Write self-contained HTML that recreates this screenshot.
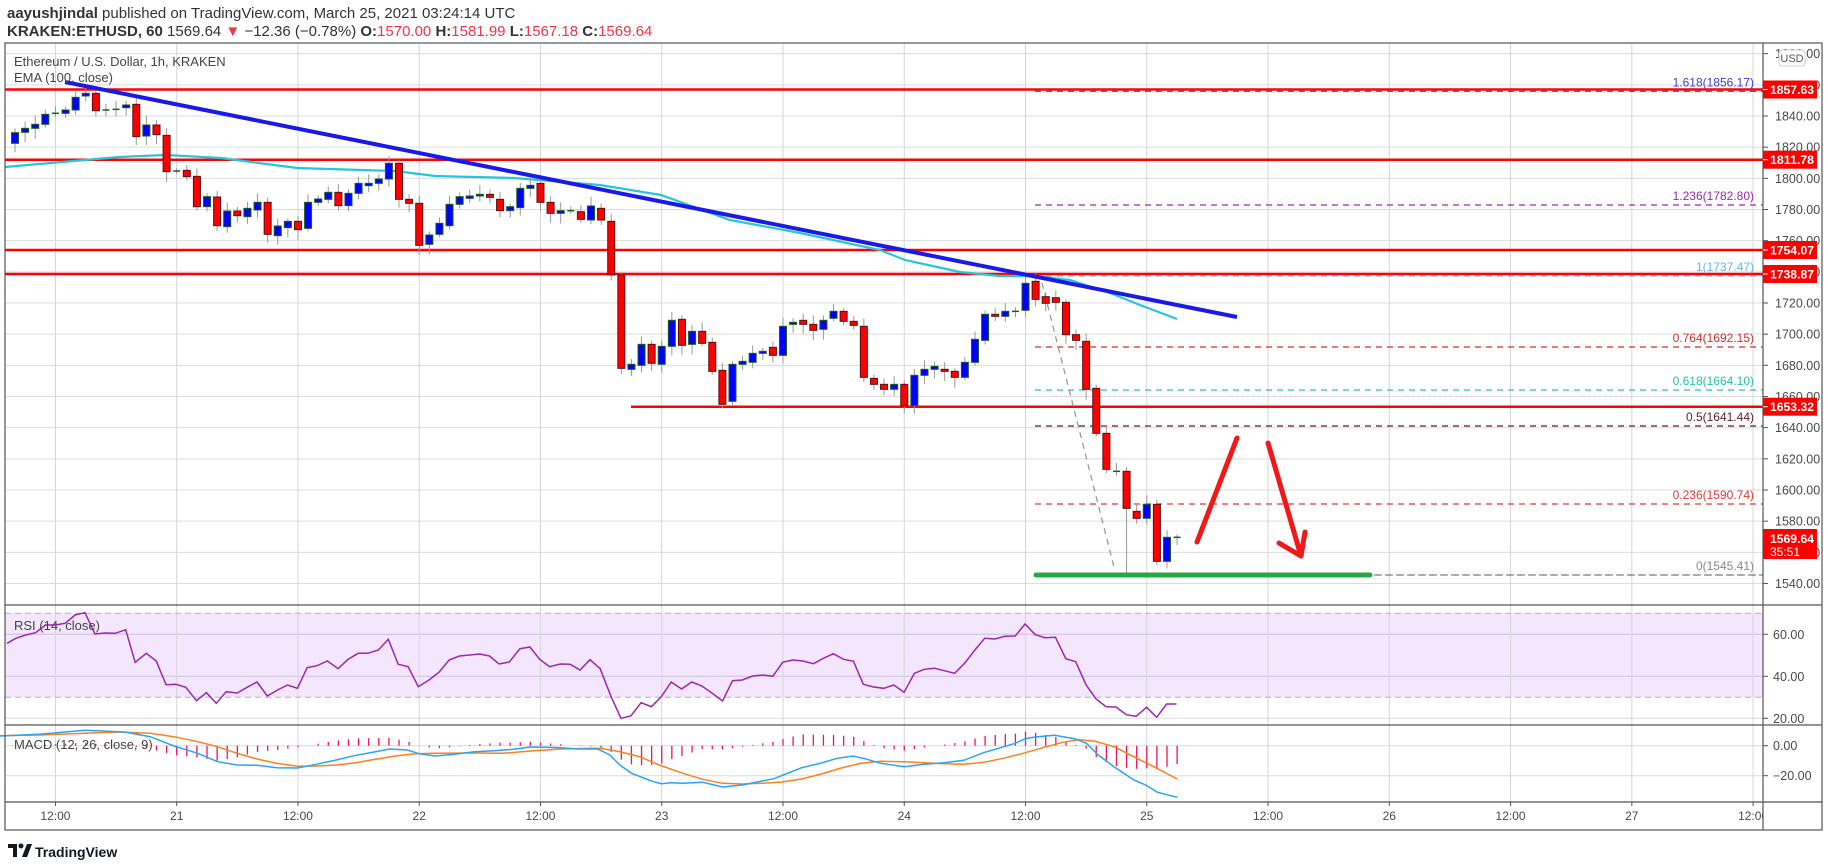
<!DOCTYPE html>
<html><head><meta charset="utf-8"><style>
body{margin:0;background:#fff;width:1828px;height:867px;overflow:hidden;font-family:"Liberation Sans",sans-serif}
svg{position:absolute;left:0;top:0}
</style></head><body>
<svg id="s" width="1828" height="867" xmlns="http://www.w3.org/2000/svg" font-family="Liberation Sans, sans-serif">
<text x="7" y="18" font-size="15" fill="#333"><tspan font-weight="bold">aayushjindal</tspan> published on TradingView.com, March 25, 2021 03:24:14 UTC</text>
<text x="7" y="36" font-size="15" fill="#333"><tspan font-weight="bold">KRAKEN:ETHUSD, 60</tspan> 1569.64 <tspan fill="#f23645">▼</tspan> −12.36 (−0.78%) <tspan font-weight="bold">O:</tspan><tspan fill="#f23645">1570.00</tspan> <tspan font-weight="bold">H:</tspan><tspan fill="#f23645">1581.99</tspan> <tspan font-weight="bold">L:</tspan><tspan fill="#f23645">1567.18</tspan> <tspan font-weight="bold">C:</tspan><tspan fill="#f23645">1569.64</tspan></text>
<g id="g"></g>
</svg>
<script>
const G=document.getElementById('g');
let h='';
const X=t=>176.7+10.105*t;
const PY=p=>116+(1840-p)*1.5583;
const R=1763,T=43,MB=605,RB=725,CB=802,AB=830;
h+=`<rect x="5" y="613" width="${R-5}" height="84" fill="#f3e6fd"/>`;
for(let p=1540;p<=1880;p+=20){const y=PY(p);h+=`<line x1="5" x2="${R}" y1="${y}" y2="${y}" stroke="#dcdcdc"/>`;}
[634.3,676.3,718.3].forEach(y=>h+=`<line x1="5" x2="${R}" y1="${y}" y2="${y}" stroke="${y<700?'#cdbfe0':'#dcdcdc'}"/>`);
[745.7,775.7].forEach(y=>h+=`<line x1="5" x2="${R}" y1="${y}" y2="${y}" stroke="#dcdcdc"/>`);
const tl=['12:00','21','12:00','22','12:00','23','12:00','24','12:00','25','12:00','26','12:00','27','12:00'];
h+=`<defs><clipPath id="cpa"><rect x="0" y="0" width="${R}" height="867"/></clipPath><clipPath id="cpm"><rect x="5" y="${T}" width="${R-5}" height="${MB-T}"/></clipPath></defs>`;
for(let k=-1;k<=13;k++){const x=X(k*12);h+=`<line x1="${x}" x2="${x}" y1="${T}" y2="${CB}" stroke="#d6d6d6"/>`;
h+=`<line x1="${x}" x2="${x}" y1="${CB}" y2="${CB+4}" stroke="#555"/>`;
h+=`<text x="${x}" y="820" font-size="12" fill="#4a4a4a" text-anchor="middle" clip-path="url(#cpa)">${tl[k+1]}</text>`;}
[613.3,697.3].forEach(y=>h+=`<line x1="5" x2="${R}" y1="${y}" y2="${y}" stroke="#b8b0c0" stroke-dasharray="6,4"/>`);
[89.5,159.7,250,274].forEach(y=>h+=`<line x1="5" x2="${R}" y1="${y}" y2="${y}" stroke="#ff0000" stroke-width="2.5"/>`);
h+=`<line x1="631" x2="${R}" y1="406.7" y2="406.7" stroke="#ff0000" stroke-width="2.5"/>`;
const fib=[[91.3,'#3f3fd6','1.618(1856.17)'],[205,'#9c27b0','1.236(1782.80)'],[276,'#64b5f6','1(1737.47)'],[347,'#d32f2f','0.764(1692.15)'],[390,'#26c6a0','0.618(1664.10)'],[426,'#5d1b2b','0.5(1641.44)'],[504,'#e53935','0.236(1590.74)'],[575,'#888','0(1545.41)']];
fib.forEach(f=>{h+=`<line x1="1035" x2="${R}" y1="${f[0]}" y2="${f[0]}" stroke="${f[1]}" stroke-width="1.2" stroke-dasharray="6,5"/>`;
h+=`<text x="1754" y="${f[0]-5}" font-size="12" fill="${f[1]}" text-anchor="end">${f[2]}</text>`;});
h+=`<line x1="1042" y1="283" x2="1114" y2="567" stroke="#999" stroke-width="1.3" stroke-dasharray="6,5"/>`;
const ema=[[5,167],[119,157],[166,155],[221,158],[297,168],[395,171],[435,176],[514,178],[600,185],[661,195],[730,220],[800,233],[880,250],[905,260],[960,272],[1000,276],[1033,276],[1070,280],[1110,293],[1140,305],[1177,319]];
h+=`<polyline points="${ema.map(p=>p.join(',')).join(' ')}" fill="none" stroke="#26c6da" stroke-width="2.2"/>`;
const A=[[250,218],[217,205],[205,193],[193,163],[160,160],[160,150],[150,112],[108,100],[100,152],[150,150],[148,148],[143,135],[133,230],[228,195],[195,224],[226,335],[333,333],[331,350],[349,440],[440,410],[411,497],[500,453],[453,467],[470,445],[450,427],[427,523],[527,498],[503,484],[484,509],[505,427],[427,417],[418,397],[397,437],[437,400],[400,370],[377,370],[370,357],[357,310],[310,418],[418,430],[430,556],[553,525],[523,490],[497,433],[433,410],[415,408],[408,403],[403,412],[418,452],[452,440],[443,385],[385,376],[370,427],[427,460],[460,452],[452,452],[455,478],[480,438],[445,480],[484,645]];
const B=[[285,565],[568,553],[556,493],[493,550],[553,499],[499,421],[418,496],[493,454],[454,490],[487,574],[571,673],[664,553],[553,544],[547,520],[520,514],[502,526],[526,439],[433,427],[421,433],[433,451],[448,421],[415,394],[394,424],[424,436],[439,592],[595,613],[613,628],[628,613],[613,677],[677,586],[586,568],[568,559],[568,574],[574,592],[592,547],[547,478],[481,403],[403,409],[409,394],[394,394],[391,310],[304,358]];
const C=[[140,160],[143,157],[157,254],[254,271],[274,418],[415,550],[550,658],[664,664],[664,775],[784,805],[805,763],[763,934],[934,862],[862,862]];
const cs=[];A.forEach((c,i)=>cs.push([-16+i,60+c[0]/3,60+c[1]/3]));B.forEach((c,i)=>cs.push([44+i,180+c[0]/3,180+c[1]/3]));C.forEach((c,i)=>cs.push([86+i,250+c[0]/3,250+c[1]/3]));
let cg='';
cs.forEach(c=>{const x=X(c[0]),o=c[1],cl=c[2];const top=Math.min(o,cl),bot=Math.max(o,cl);const r=((c[0]*37)%11+11)%11;let hi=top-3-r*0.6,lo=bot+3+(((c[0]*53)%13+13)%13)*0.6;if(c[0]==94)lo=572.7;if(c[0]==97)lo=565;
cg+=`<line x1="${x}" x2="${x}" y1="${hi}" y2="${lo}" stroke="#999"/>`;
if(bot-top<1.5){cg+=`<line x1="${x-3.5}" x2="${x+3.5}" y1="${top}" y2="${top}" stroke="${cl<=o?'#1b5e20':'#6d1010'}" stroke-width="1.5"/>`;}
else{const up=cl<o;cg+=`<rect x="${x-3.5}" y="${top}" width="7" height="${bot-top}" fill="${up?'#0000ff':'#ff0000'}" stroke="${up?'#1b5e20':'#5a1010'}" stroke-width="1"/>`;}});
h+=`<g clip-path="url(#cpm)">${cg}</g>`;
h+=`<line x1="65" y1="82" x2="1237" y2="317" stroke="#1a1ae6" stroke-width="4"/>`;
h+=`<line x1="1036" y1="575" x2="1370" y2="575" stroke="#27a844" stroke-width="5" stroke-linecap="round"/>`;
h+=`<line x1="1374" y1="575" x2="${R}" y2="575" stroke="#888" stroke-width="1.2" stroke-dasharray="6,5"/>`;
h+=`<g stroke="#f01818" stroke-width="5" fill="none" stroke-linecap="round" stroke-linejoin="round"><line x1="1197" y1="542" x2="1237" y2="438"/><line x1="1268" y1="443" x2="1301" y2="556"/><polyline points="1279,543 1301,556 1305,532"/></g>`;
const r7=[[18,130],[40,115],[65,105],[90,98],[115,75],[140,75],[165,70],[190,45],[215,38],[240,102],[265,99],[292,100],[318,89],[342,187],[370,160],[395,183],[420,254],[445,253],[470,262],[497,302],[522,278],[547,310],[572,275],[600,279],[625,262],[650,246],[676,288],[702,270],[727,255],[752,265],[777,203],[802,197],[828,183],[855,206],[880,178],[906,160],[930,160],[957,150],[982,118],[1007,193],[1032,200],[1058,260],[1085,240],[1110,217],[1136,180],[1162,168],[1187,165],[1213,162],[1238,168],[1262,192],[1288,186],[1315,146],[1340,141],[1365,178],[1390,200],[1417,192],[1442,193],[1467,210],[1492,179],[1517,205]];
const r8=[[0,205],[28,290],[53,355],[78,348],[104,308],[130,320],[155,290],[180,246],[206,267],[232,246],[258,258],[284,280],[310,303],[335,242],[360,240],[386,228],[412,225],[437,229],[462,187],[487,180],[513,183],[540,191],[565,175],[590,161],[616,178],[641,184],[666,253],[692,261],[718,265],[743,255],[769,277],[795,220],[820,208],[846,205],[871,212],[897,220],[922,190],[948,150],[973,115],[999,117],[1024,109],[1050,108],[1075,72],[1101,104],[1126,113],[1152,112],[1178,176],[1203,185],[1229,254],[1254,296],[1280,320],[1305,321],[1331,344],[1356,349],[1382,322],[1408,352],[1433,312],[1458,312]];
const rp=r7.map(p=>[p[0]/2.529,600+p[1]/3]).concat(r8.map(p=>[600+p[0]/2.529,600+p[1]/3]));
h+=`<polyline points="${rp.map(p=>p[0].toFixed(1)+','+p[1].toFixed(1)).join(' ')}" fill="none" stroke="#9c27b0" stroke-width="1.5"/>`;
const b7=[[0,408],[100,403],[215,391],[315,396],[380,410],[440,438],[500,460],[550,485],[600,495],[650,496],[700,503],[752,504],[800,493],[850,480],[900,466],[950,455],[985,447],[1030,450],[1060,461],[1100,468],[1150,463],[1200,455],[1250,452],[1300,448],[1340,441],[1380,442],[1420,443],[1460,447],[1510,447]];
const o7=[[0,407],[100,405],[215,400],[300,396],[380,400],[440,410],[500,425],[550,440],[600,460],[650,477],[700,490],[752,499],[800,498],[850,495],[900,488],[950,478],[1000,468],[1050,461],[1100,460],[1200,459],[1270,460],[1350,452],[1420,447],[1500,445]];
const b8=[[0,450],[25,465],[50,495],[80,520],[130,543],[155,551],[180,548],[210,550],[260,547],[310,561],[360,555],[410,543],[440,536],[470,522],[510,503],[560,489],[600,475],[640,468],[670,476],[710,490],[770,500],[820,493],[870,488],[920,481],[970,458],[1050,430],[1075,416],[1100,411],[1150,406],[1200,416],[1230,430],[1260,465],[1300,500],[1350,540],[1380,555],[1410,577],[1460,592]];
const o8=[[0,445],[50,455],[100,470],[150,495],[210,520],[260,538],[310,550],[360,552],[410,550],[460,546],[510,537],[560,522],[610,504],[660,490],[710,484],[770,485],[820,488],[870,491],[920,493],[970,487],[1020,475],[1070,460],[1120,443],[1170,427],[1210,419],[1250,423],[1300,440],[1350,470],[1400,500],[1460,537]];
const cv=(a,b)=>a.map(p=>[p[0]/2.529,600+p[1]/3]).concat(b.map(p=>[600+p[0]/2.529,600+p[1]/3]));
const BL=cv(b7,b8),OR=cv(o7,o8);
const itp=(P,x)=>{if(x<=P[0][0])return P[0][1];for(let i=1;i<P.length;i++)if(P[i][0]>=x){const a=P[i-1],b=P[i];return a[1]+(b[1]-a[1])*(x-a[0])/(b[0]-a[0]);}return P[P.length-1][1];};
for(let t=-16;t<=99;t++){const x=X(t);const d=itp(BL,x)-itp(OR,x);if(Math.abs(d)>0.4)h+=`<line x1="${x}" x2="${x}" y1="745.7" y2="${745.7+d}" stroke="#f0145a" stroke-width="1.3"/>`;}
h+=`<polyline points="${OR.map(p=>p[0].toFixed(1)+','+p[1].toFixed(1)).join(' ')}" fill="none" stroke="#ff7f1e" stroke-width="1.5"/>`;
h+=`<polyline points="${BL.map(p=>p[0].toFixed(1)+','+p[1].toFixed(1)).join(' ')}" fill="none" stroke="#2aa4f4" stroke-width="1.5"/>`;
h+=`<text x="14" y="66" font-size="13" fill="#444">Ethereum / U.S. Dollar, 1h, KRAKEN</text><text x="14" y="82" font-size="13" fill="#444">EMA (100, close)</text>`;
h+=`<text x="14" y="630" font-size="13" fill="#444">RSI (14, close)</text><text x="14" y="749" font-size="13" fill="#444">MACD (12, 26, close, 9)</text>`;
h+=`<rect x="5" y="${T}" width="${1822-5}" height="${AB-T}" fill="none" stroke="#555" stroke-width="1.2"/>`;
h+=`<line x1="${R}" x2="${R}" y1="${T}" y2="${AB}" stroke="#555" stroke-width="1.2"/>`;
[MB,RB,CB].forEach(y=>h+=`<line x1="5" x2="1822" y1="${y}" y2="${y}" stroke="#555" stroke-width="1.2"/>`);
for(let p=1540;p<=1880;p+=20){const y=PY(p);h+=`<line x1="${R}" x2="${R+5}" y1="${y}" y2="${y}" stroke="#555"/><text x="1775" y="${y+4.5}" font-size="12.5" fill="#4a4a4a">${p}.00</text>`;}
[[634.3,'60.00'],[676.3,'40.00'],[718.3,'20.00'],[745.7,'0.00'],[775.7,'−20.00']].forEach(a=>h+=`<line x1="${R}" x2="${R+5}" y1="${a[0]}" y2="${a[0]}" stroke="#555"/><text x="1773" y="${a[0]+4.5}" font-size="12.5" fill="#4a4a4a">${a[1]}</text>`);
[[89.5,'1857.63'],[159.7,'1811.78'],[250,'1754.07'],[274,'1738.87'],[406.7,'1653.32']].forEach(a=>h+=`<rect x="${R}" y="${a[0]-9}" width="54" height="18" fill="#ff0000"/><line x1="${R}" x2="${R+5}" y1="${a[0]}" y2="${a[0]}" stroke="#fff"/><text x="1770" y="${a[0]+4.5}" font-size="12" font-weight="bold" fill="#fff" textLength="44" lengthAdjust="spacingAndGlyphs">${a[1]}</text>`);
h+=`<rect x="${R}" y="529" width="54" height="30" fill="#ff0000"/><text x="1770" y="543" font-size="12" font-weight="bold" fill="#fff" textLength="44" lengthAdjust="spacingAndGlyphs">1569.64</text><text x="1770" y="556" font-size="12" fill="#fff">35:51</text>`;
h+=`<rect x="1779" y="50" width="26" height="16" rx="3" fill="#fff" stroke="#ccc"/><text x="1792" y="62" font-size="11" fill="#555" text-anchor="middle">USD</text>`;
h+=`<g transform="translate(8,840)"><path d="M0 4h9v13h-4v-9h-5z" fill="#131722"/><circle cx="13" cy="6" r="2.5" fill="#131722"/><path d="M14 17l5-13h5l-5 13z" fill="#131722"/></g><text x="35" y="857" font-size="14" font-weight="bold" fill="#131722">TradingView</text>`;
G.innerHTML=h;
</script>
</body></html>
